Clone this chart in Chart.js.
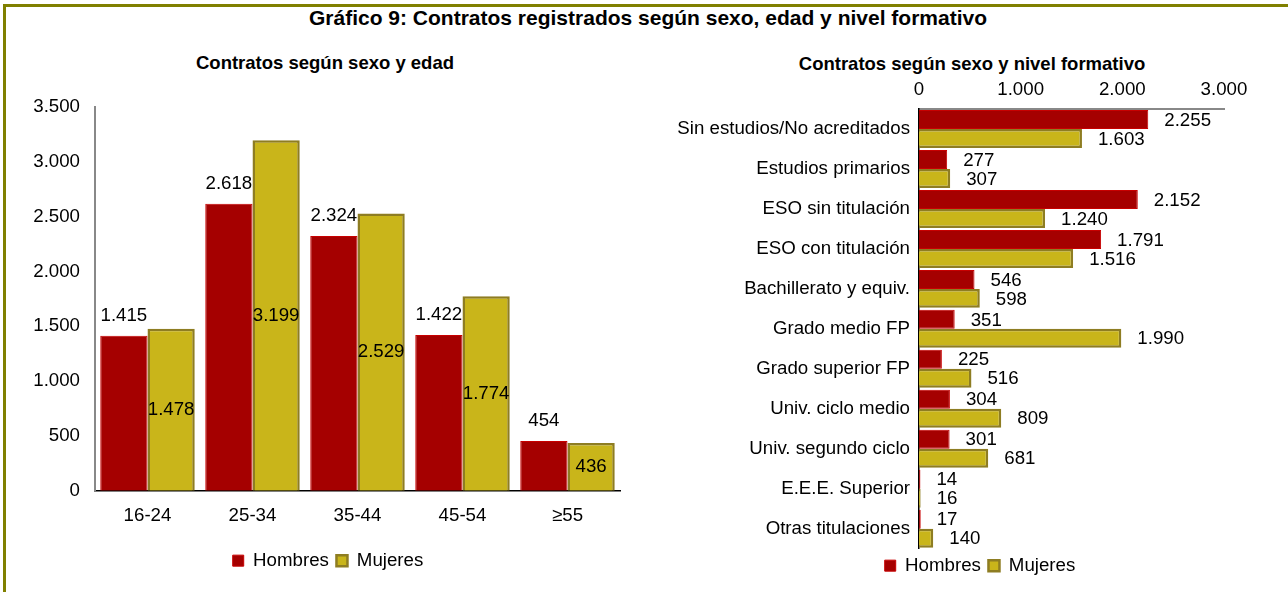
<!DOCTYPE html>
<html>
<head>
<meta charset="utf-8">
<script src="https://cdn.jsdelivr.net/npm/chart.js@4/dist/chart.umd.min.js"></script>
<style>
  body { margin: 0; background: #fff; width: 1288px; height: 592px; overflow: hidden; position: relative; font-family: "Liberation Sans", Arial, sans-serif; }
  #marco { position: absolute; left: 3px; top: 4px; width: 1400px; height: 700px; border-left: 3px solid #808000; border-top: 3px solid #808000; }
  .tit { position: absolute; font-weight: bold; color: #000; white-space: nowrap; transform: translate(-50%, -50%); }
  canvas { position: absolute; }
</style>
</head>
<body>
<div id="marco"></div>
<div class="tit" style="left:648px; top:18px; font-size:21px;">Gráfico 9: Contratos registrados según sexo, edad y nivel formativo</div>
<div class="tit" style="left:325px; top:63px; font-size:18.5px;">Contratos según sexo y edad</div>
<div class="tit" style="left:972px; top:64px; font-size:18.5px;">Contratos según sexo y nivel formativo</div>
<canvas id="edad" width="630" height="499" style="left:10px; top:81px;"></canvas>
<canvas id="nivel" width="616" height="515" style="left:672px; top:70px;"></canvas>
<script>
// datos
const edades = ['16-24', '25-34', '35-44', '45-54', '≥55'];
const hombresEdad = [1415, 2618, 2324, 1422, 454];
const mujeresEdad = [1478, 3199, 2529, 1774, 436];

const niveles = [
  'Sin estudios/No acreditados', 'Estudios primarios', 'ESO sin titulación', 'ESO con titulación',
  'Bachillerato y equiv.', 'Grado medio FP', 'Grado superior FP', 'Univ. ciclo medio',
  'Univ. segundo ciclo', 'E.E.E. Superior', 'Otras titulaciones'
];
const hombresNivel = [2255, 277, 2152, 1791, 546, 351, 225, 304, 301, 14, 17];
const mujeresNivel = [1603, 307, 1240, 1516, 598, 1990, 516, 809, 681, 16, 140];

const ROJO = '#A50000', ROJO_BORDE = '#C80000';
const AMARILLO = '#C9B51A', AMARILLO_BORDE = '#8E7D22';
const FUENTE = 18.7;

Chart.defaults.font.family = '"Liberation Sans", Arial, sans-serif';
Chart.defaults.font.size = FUENTE;
Chart.defaults.color = '#000';

function miles(n) {
  return String(n).replace(/\B(?=(\d{3})+(?!\d))/g, '.');
}

// etiquetas de valor sobre las barras
const etiquetas = {
  id: 'etiquetas',
  afterDatasetsDraw(chart, args, opts) {
    const ctx = chart.ctx;
    ctx.save();
    ctx.font = FUENTE + 'px "Liberation Sans", Arial, sans-serif';
    ctx.fillStyle = '#000';
    chart.data.datasets.forEach((ds, i) => {
      chart.getDatasetMeta(i).data.forEach((bar, j) => {
        const txt = miles(ds.data[j]);
        if (opts.modo === 'vertical') {
          ctx.textAlign = 'center';
          if (i === 0) {
            ctx.textBaseline = 'alphabetic';
            ctx.fillText(txt, bar.x, bar.y - 15);
          } else {
            ctx.textBaseline = 'middle';
            ctx.fillText(txt, bar.x, (bar.y + bar.base) / 2);
          }
        } else {
          ctx.textAlign = 'left';
          ctx.textBaseline = 'middle';
          ctx.fillText(txt, bar.x + 16, bar.y + 1);
        }
      });
    });
    ctx.restore();
  }
};

// desplaza la leyenda en horizontal para centrarla como en el original
const moverLeyenda = {
  id: 'moverLeyenda',
  afterLayout(chart, args, opts) {
    const lg = chart.legend;
    if (lg) { lg.left += opts.dx; lg.right += opts.dx; }
  }
};

function series(h, m) {
  return [
    { label: 'Hombres', data: h, backgroundColor: ROJO, borderColor: ROJO_BORDE, borderWidth: 1 },
    { label: 'Mujeres', data: m, backgroundColor: AMARILLO, borderColor: AMARILLO_BORDE, borderWidth: 2.5 }
  ];
}

const leyenda = {
  position: 'bottom',
  labels: { boxWidth: 11, boxHeight: 11, padding: 7.6, font: { size: FUENTE } }
};

new Chart(document.getElementById('edad'), {
  type: 'bar',
  data: { labels: edades, datasets: series(hombresEdad, mujeresEdad) },
  options: {
    responsive: false,
    animation: false,
    devicePixelRatio: 1,
    datasets: { bar: { categoryPercentage: 0.9, barPercentage: 1 } },
    layout: { padding: { top: 15, right: 20, left: 0, bottom: 0 } },
    plugins: {
      legend: leyenda, tooltip: { enabled: false },
      etiquetas: { modo: 'vertical' }, moverLeyenda: { dx: 13 }
    },
    scales: {
      x: {
        grid: { display: false, drawTicks: false },
        border: { color: '#000', width: 1.5 },
        ticks: { padding: 14 },
        afterFit: s => { s.height = 53; }
      },
      y: {
        min: 0, max: 3500,
        grid: { display: false, drawTicks: false },
        border: { color: '#888', width: 2 },
        ticks: { stepSize: 500, padding: 15, callback: v => miles(v) },
        afterFit: s => { s.width = 85; }
      }
    }
  },
  plugins: [etiquetas, moverLeyenda]
});

new Chart(document.getElementById('nivel'), {
  type: 'bar',
  data: { labels: niveles, datasets: series(hombresNivel, mujeresNivel) },
  options: {
    indexAxis: 'y',
    responsive: false,
    animation: false,
    devicePixelRatio: 1,
    datasets: { bar: { categoryPercentage: 0.95, barPercentage: 1 } },
    layout: { padding: { top: 0, right: 64, left: 0, bottom: 0 } },
    plugins: {
      legend: leyenda, tooltip: { enabled: false },
      etiquetas: { modo: 'horizontal' }, moverLeyenda: { dx: 32 }
    },
    scales: {
      x: {
        position: 'top',
        min: 0, max: 3000,
        grid: { display: false, drawTicks: false },
        border: { color: '#888', width: 2 },
        ticks: { stepSize: 1000, padding: 8, callback: v => miles(v) },
        afterFit: s => { s.height = 39; }
      },
      y: {
        grid: { display: false, drawTicks: false },
        border: { color: '#000', width: 1.5 },
        ticks: { padding: 9 },
        afterFit: s => { s.width = 247; }
      }
    }
  },
  plugins: [etiquetas, moverLeyenda]
});
</script>
</body>
</html>
